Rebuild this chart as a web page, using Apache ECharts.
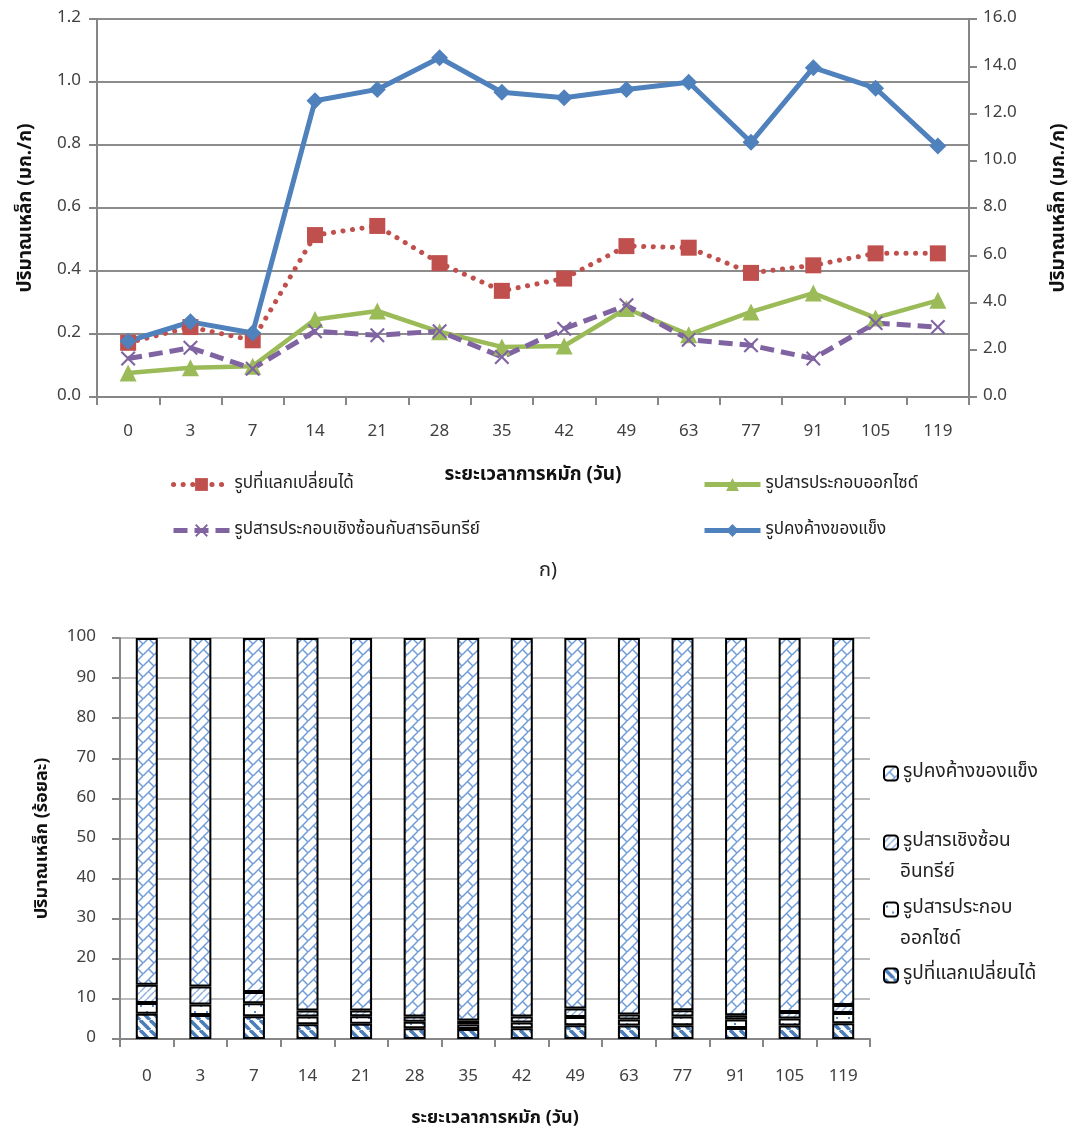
<!DOCTYPE html>
<html>
<head>
<meta charset="utf-8">
<script src="https://cdn.jsdelivr.net/npm/echarts@6/dist/echarts.min.js"></script>
<style>
html,body{margin:0;padding:0;background:#fff;overflow:hidden;}
#topc{position:absolute;left:0;top:0;width:1078px;height:600px;}
#botc{position:absolute;left:0;top:600px;width:1078px;height:533px;}
</style>
</head>
<body>
<div id="topc"></div>
<div id="botc"></div>
<script>
// ---- data ----
const categories = ['0','3','7','14','21','28','35','42','49','63','77','91','105','119'];
const seriesNames = ['รูปที่แลกเปลี่ยนได้','รูปสารประกอบออกไซด์','รูปสารประกอบเชิงซ้อนกับสารอินทรีย์','รูปคงค้างของแข็ง'];
// top chart (mg/g)
const exchangeable = [0.172,0.222,0.180,0.514,0.543,0.425,0.337,0.376,0.479,0.474,0.394,0.418,0.456,0.456];
const oxide        = [0.076,0.093,0.098,0.246,0.273,0.207,0.159,0.162,0.281,0.198,0.270,0.330,0.251,0.307];
const organic      = [0.122,0.156,0.090,0.209,0.196,0.209,0.127,0.217,0.291,0.182,0.164,0.122,0.235,0.222];
const residual     = [2.36,3.18,2.71,12.54,13.02,14.36,12.90,12.67,13.02,13.32,10.78,13.94,13.07,10.62];
// bottom chart (%)
const barNames = ['รูปที่แลกเปลี่ยนได้','รูปสารประกอบออกไซด์','รูปสารเชิงซ้อนอินทรีย์','รูปคงค้างของแข็ง'];
const barLegendLines = [['รูปที่แลกเปลี่ยนได้'],['รูปสารประกอบ','ออกไซด์'],['รูปสารเชิงซ้อน','อินทรีย์'],['รูปคงค้างของแข็ง']];
const pctExchangeable = [6.3,6.0,5.7,3.7,3.8,2.7,2.5,2.7,3.4,3.35,3.4,2.75,3.35,3.9];
const pctOxide        = [2.7,2.6,3.2,1.9,1.9,1.6,1.1,1.4,2.1,1.5,2.2,2.1,1.75,2.6];
const pctOrganic      = [4.5,4.5,2.85,1.5,1.4,1.3,1.0,1.5,2.1,1.25,1.6,1.05,1.65,2.0];
const pctResidual     = [86.5,86.9,88.25,92.9,92.9,94.4,95.4,94.4,92.4,93.9,92.8,94.1,93.25,91.5];
const xAxisTitle = 'ระยะเวลาการหมัก (วัน)';
const yTitleTop = 'ปริมาณเหล็ก (มก./ก)';
const yTitleBottom = 'ปริมาณเหล็ก (ร้อยละ)';
const caption = 'ก)';

// ---- styles ----
const FONT = 'Tahoma, "Noto Sans Thai", "Noto Sans", "DejaVu Sans", sans-serif';
const AX = '#868686';
const LBL = '#404040';

function tile(size, draw){
  const c = document.createElement('canvas');
  c.width = size; c.height = size;
  const ctx = c.getContext('2d');
  ctx.fillStyle = '#fff'; ctx.fillRect(0,0,size,size);
  draw(ctx,size);
  return {image:c, repeat:'repeat'};
}
const patExch = tile(10,(ctx,s)=>{
  ctx.strokeStyle='#4a7ebb'; ctx.lineWidth=3.6;
  for(const o of [-s,0,s]){ctx.beginPath();ctx.moveTo(o,0);ctx.lineTo(o+s,s);ctx.stroke();}
});
const patOxide = tile(12,(ctx,s)=>{
  ctx.fillStyle='#5b8fd0';
  ctx.fillRect(2,3,2,2); ctx.fillRect(8,9,2,2);
});
const patOrg = tile(7,(ctx,s)=>{
  ctx.strokeStyle='#8fb1e0'; ctx.lineWidth=1.5;
  for(const o of [-s,0,s]){ctx.beginPath();ctx.moveTo(o,s);ctx.lineTo(o+s,0);ctx.stroke();}
});
const patRes = tile(11,(ctx,s)=>{
  ctx.strokeStyle='#6f9bd8'; ctx.lineWidth=1.5;
  for(const o of [-s,0,s]){ctx.beginPath();ctx.moveTo(o,s);ctx.lineTo(o+s,0);ctx.stroke();}
  ctx.beginPath();ctx.moveTo(s/2,s/2);ctx.lineTo(s,s);ctx.stroke();
});

const xPath = 'path://M2,0 L10,8 L18,0 L20,2 L12,10 L20,18 L18,20 L10,12 L2,20 L0,18 L8,10 L0,2 Z';
const fmt1 = v => v.toFixed(1);

// ---------------- top chart ----------------
const topChart = echarts.init(document.getElementById('topc'), null, {renderer:'canvas', width:1078, height:600});
const legendTop = (names, left) => ({
  data:names, orient:'vertical', left:left, top:471, itemWidth:56, itemHeight:16, itemGap:29,
  lineStyle:{width:5}, textStyle:{fontFamily:FONT, fontSize:17, color:'#222'}
});
topChart.setOption({
  backgroundColor:'#fff',
  animation:false,
  textStyle:{fontFamily:FONT},
  title:{text:caption, left:534, top:557, textStyle:{fontFamily:FONT, fontSize:20, fontWeight:'normal', color:'#222'}},
  grid:{left:97, right:107, top:19, bottom:203, containLabel:false},
  legend:[legendTop([seriesNames[0], seriesNames[2]], 166), legendTop([seriesNames[1], seriesNames[3]], 697)],
  xAxis:{type:'category', data:categories, boundaryGap:true,
     axisLine:{lineStyle:{color:AX, width:2}},
     axisTick:{show:true, length:8, lineStyle:{color:AX, width:2}},
     axisLabel:{color:LBL, fontSize:17, margin:27, fontFamily:FONT},
     name:xAxisTitle, nameLocation:'middle', nameGap:70,
     nameTextStyle:{fontFamily:FONT, fontSize:19, fontWeight:'bold', color:'#111'}},
  yAxis:[
    {type:'value', min:0, max:1.2, interval:0.2, position:'left',
     axisLine:{show:true, lineStyle:{color:AX, width:2}},
     axisTick:{show:true, length:8, lineStyle:{color:AX, width:2}},
     axisLabel:{color:LBL, fontSize:17, margin:16, formatter:fmt1, fontFamily:FONT},
     splitLine:{show:true, lineStyle:{color:'#8c8c8c', width:2}},
     name:yTitleTop, nameLocation:'middle', nameGap:60, nameRotate:90,
     nameTextStyle:{fontFamily:FONT, fontSize:19, fontWeight:'bold', color:'#111'}},
    {type:'value', min:0, max:16, interval:2, position:'right',
     axisLine:{show:true, lineStyle:{color:AX, width:2}},
     axisTick:{show:true, length:8, lineStyle:{color:AX, width:2}},
     axisLabel:{color:LBL, fontSize:17, margin:14, formatter:fmt1, fontFamily:FONT},
     splitLine:{show:false},
     name:yTitleTop, nameLocation:'middle', nameGap:82, nameRotate:90,
     nameTextStyle:{fontFamily:FONT, fontSize:19, fontWeight:'bold', color:'#111'}}
  ],
  series:[
    {name:seriesNames[0], type:'line', yAxisIndex:0, data:exchangeable,
     symbol:'rect', symbolSize:16, itemStyle:{color:'#c0504d'},
     lineStyle:{color:'#c0504d', width:5, type:[0.1,9.5], cap:'round'}},
    {name:seriesNames[1], type:'line', yAxisIndex:0, data:oxide,
     symbol:'triangle', symbolSize:17, itemStyle:{color:'#9bbb59'},
     lineStyle:{color:'#9bbb59', width:4.5}},
    {name:seriesNames[2], type:'line', yAxisIndex:0, data:organic,
     symbol:xPath, symbolSize:15, itemStyle:{color:'#8064a2'},
     lineStyle:{color:'#8064a2', width:5, type:[14,7]}},
    {name:seriesNames[3], type:'line', yAxisIndex:1, data:residual,
     symbol:'diamond', symbolSize:17, itemStyle:{color:'#4f81bd'},
     lineStyle:{color:'#4f81bd', width:5}}
  ]
});

// ---------------- bottom chart ----------------
const botChart = echarts.init(document.getElementById('botc'), null, {renderer:'canvas', width:1078, height:533});
const legendTops = [361, 295, 228, 159]; // exchangeable, oxide, organic, residual
const legendsBot = barNames.map((n,i)=>({
  data:[n], left:878, top:legendTops[i], itemWidth:14, itemHeight:14,
  formatter:()=>barLegendLines[i][0],
  itemStyle:{borderColor:'#000', borderWidth:2},
  textStyle:{fontFamily:FONT, fontSize:19, color:'#222'}
}));
const secondLines = [];
barLegendLines.forEach((l,i)=>{
  if(l.length>1) secondLines.push({type:'text', left:900, top:legendTops[i]+36,
    style:{text:l[1], fontFamily:FONT, fontSize:19, fill:'#222'}});
});
botChart.setOption({
  backgroundColor:'#fff',
  animation:false,
  textStyle:{fontFamily:FONT},
  grid:{left:120, right:208, top:38, bottom:88, containLabel:false},
  legend:legendsBot,
  graphic:secondLines,
  xAxis:{type:'category', data:categories, boundaryGap:true,
     axisLine:{lineStyle:{color:AX, width:2}},
     axisTick:{show:true, length:8, lineStyle:{color:AX, width:2}},
     axisLabel:{color:LBL, fontSize:17, margin:30, fontFamily:FONT},
     name:xAxisTitle, nameLocation:'middle', nameGap:71,
     nameTextStyle:{fontFamily:FONT, fontSize:18, fontWeight:'bold', color:'#111'}},
  yAxis:{type:'value', min:0, max:100, interval:10,
     axisLine:{show:true, lineStyle:{color:AX, width:2}},
     axisTick:{show:true, length:8, lineStyle:{color:AX, width:2}},
     axisLabel:{color:LBL, fontSize:17, margin:24, fontFamily:FONT},
     splitLine:{show:true, lineStyle:{color:'#a6a6a6', width:1.5}},
     name:yTitleBottom, nameLocation:'middle', nameGap:68, nameRotate:90,
     nameTextStyle:{fontFamily:FONT, fontSize:18, fontWeight:'bold', color:'#111'}},
  series:[
    {name:barNames[0], type:'bar', stack:'p', data:pctExchangeable, barWidth:22,
     itemStyle:{color:patExch, borderColor:'#000', borderWidth:2}},
    {name:barNames[1], type:'bar', stack:'p', data:pctOxide, barWidth:22,
     itemStyle:{color:patOxide, borderColor:'#000', borderWidth:2}},
    {name:barNames[2], type:'bar', stack:'p', data:pctOrganic, barWidth:22,
     itemStyle:{color:patOrg, borderColor:'#000', borderWidth:2}},
    {name:barNames[3], type:'bar', stack:'p', data:pctResidual, barWidth:22,
     itemStyle:{color:patRes, borderColor:'#000', borderWidth:2}}
  ]
});
</script>
</body>
</html>
